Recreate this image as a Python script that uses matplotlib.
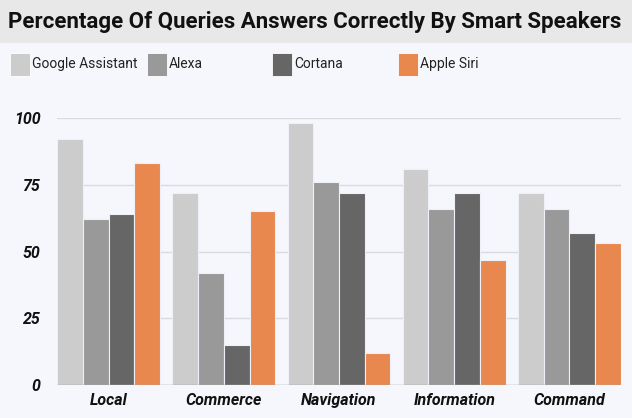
import numpy as np
import matplotlib.pyplot as plt
from matplotlib.patches import Rectangle

# data
categories = ["Local", "Commerce", "Navigation", "Information", "Command"]
series_names = ["Google Assistant", "Alexa", "Cortana", "Apple Siri"]
google = [92, 72, 98, 81, 72]
alexa = [62, 42, 76, 66, 66]
cortana = [64, 15, 72, 72, 57]
siri = [83, 65, 12, 47, 53]
yticks = [0, 25, 50, 75, 100]

colors = ["#cccccc", "#999999", "#666666", "#e8884f"]
bg = "#f6f7fc"

plt.rcParams["font.family"] = ["Roboto", "DejaVu Sans"]

fig = plt.figure(figsize=(6.32, 4.18), dpi=100, facecolor=bg)
W, H = 632, 418

# title band
fig.patches.append(Rectangle((0, 1 - 43 / H), 1, 43 / H, transform=fig.transFigure,
                             facecolor="#e8e8e8", edgecolor="none", zorder=0))
fig.text(8 / W, 1 - 22 / H, "Percentage Of Queries Answers Correctly By Smart Speakers",
         ha="left", va="center", fontsize=16, fontweight="bold", color="#111111")

# legend drawn by hand to match positions
leg_x = [10, 147, 272, 398]
for x, name, c in zip(leg_x, series_names, colors):
    fig.patches.append(Rectangle((x / W, 1 - 76 / H), 20 / W, 23 / H,
                                 transform=fig.transFigure, facecolor=c,
                                 edgecolor="white", linewidth=0.6))
    fig.text((x + 22) / W, 1 - 64 / H, name, ha="left", va="center",
             fontsize=10, color="#222222")

ax = fig.add_axes([57 / W, 33 / H, (621 - 57) / W, (385 - 118) / H])
ax.set_facecolor(bg)

x = np.arange(len(categories))
bw = 0.2234
for i, vals in enumerate([google, alexa, cortana, siri]):
    ax.bar(x + (i - 1.5) * bw, vals, width=bw, color=colors[i],
           edgecolor="#eef0f8", linewidth=0.8, zorder=3)

ax.set_xlim(-0.447, len(categories) - 1 + 0.447)
ax.set_ylim(0, 100)
ax.set_yticks(yticks)
ax.set_yticklabels([str(v) for v in yticks], fontsize=11.5, fontweight="bold",
                   fontstyle="italic", color="#111111")
ax.set_xticks(x)
ax.set_xticklabels(categories, fontsize=11.5, fontweight="bold",
                   fontstyle="italic", color="#111111")
ax.tick_params(axis="both", length=0)
ax.tick_params(axis="y", pad=12)
ax.tick_params(axis="x", pad=6)

for v in yticks[1:]:
    ax.axhline(v, color="#d8dae0", linewidth=1, zorder=1)
ax.axhline(0, color="#999999", linewidth=1, zorder=4)

for s in ax.spines.values():
    s.set_visible(False)

fig.savefig("out.png", dpi=100, facecolor=bg)
